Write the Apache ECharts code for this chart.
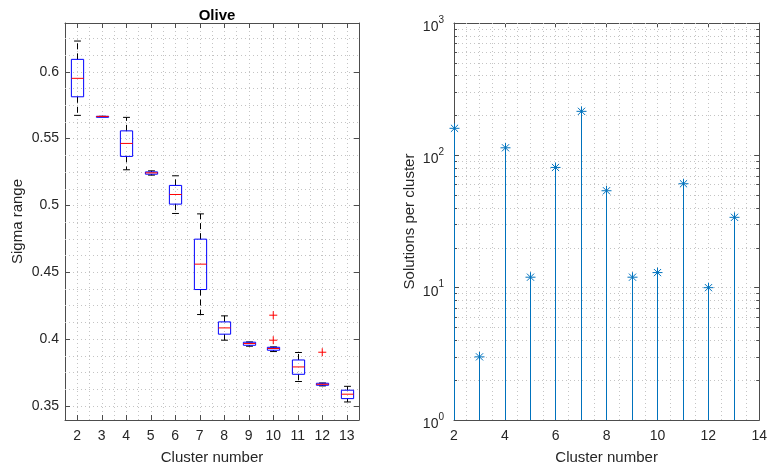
<!DOCTYPE html>
<html>
<head>
<meta charset="utf-8">
<script src="https://cdn.jsdelivr.net/npm/echarts@6/dist/echarts.min.js"></script>
<style>
html, body { margin: 0; padding: 0; background: #fff; }
#chart { width: 770px; height: 471px; }
</style>
</head>
<body>
<div id="chart"></div>
<script>
// left panel: sigma range per cluster number (box plots)
const clusters = ['2', '3', '4', '5', '6', '7', '8', '9', '10', '11', '12', '13']
const sigmaLow = [0.5674, 0.5665, 0.5267, 0.5227, 0.4940, 0.4184, 0.3992, 0.3947, 0.3907, 0.3683, 0.3650, 0.3530]
const sigmaQ1 = [0.5813, 0.5665, 0.5367, 0.5234, 0.5010, 0.4371, 0.4037, 0.3954, 0.3917, 0.3737, 0.3655, 0.3555]
const sigmaMed = [0.5951, 0.5666, 0.5464, 0.5244, 0.5082, 0.4561, 0.4084, 0.3967, 0.3930, 0.3792, 0.3662, 0.3588]
const sigmaQ3 = [0.6093, 0.5667, 0.5558, 0.5251, 0.5150, 0.4748, 0.4129, 0.3977, 0.3939, 0.3844, 0.3670, 0.3618]
const sigmaHigh = [0.6230, 0.5667, 0.5659, 0.5259, 0.5222, 0.4937, 0.4174, 0.3979, 0.3942, 0.3900, 0.3672, 0.3647]
const outlierCluster = ['10', '10', '12']
const outlierSigma = [0.4179, 0.3992, 0.3902]
const sigmaMinorGrid = [0.3625, 0.375, 0.3875, 0.4125, 0.425, 0.4375, 0.4625, 0.475, 0.4875,
	0.5125, 0.525, 0.5375, 0.5625, 0.575, 0.5875, 0.6125, 0.625]

// right panel: solutions per cluster (stem, log scale)
const stemCluster = [2, 3, 4, 5, 6, 7, 8, 9, 10, 11, 12, 13]
const solutions = [160, 3, 114, 12, 81, 215, 54, 12, 13, 61, 10, 34]
const logMinorGrid = [2, 3, 4, 5, 6, 7, 8, 9, 20, 30, 40, 50, 60, 70, 80, 90, 200, 300, 400, 500, 600, 700, 800, 900]
const clusterGrid = [2.5, 3, 3.5, 4, 4.5, 5, 5.5, 6, 6.5, 7, 7.5, 8, 8.5, 9, 9.5, 10, 10.5, 11, 11.5, 12, 12.5, 13, 13.5]

const font = "'Liberation Sans', Arial, Helvetica, sans-serif"
const axisColor = '#4d4d4d'
const textColor = '#262626'
const gridColor = '#c4c4c4'
const stemColor = '#0072BD'

const dotted = { show: true, lineStyle: { color: gridColor, type: [1, 3], width: 1 } }
const tickIn = { show: true, inside: true, length: 5, lineStyle: { color: axisColor } }
const lineAx = { show: true, lineStyle: { color: axisColor, width: 1 } }
const labelStyle = { color: textColor, fontSize: 14, fontFamily: font }
const nameStyle = { color: textColor, fontSize: 15, fontFamily: font }
const gridLine = { stroke: gridColor, lineWidth: 1, lineDash: [1, 3] }

// snap 1px lines onto pixel centres
const crisp = (v) => {
	const d = Math.round(v * 2)
	return d % 2 ? d / 2 : (d + 1) / 2
}

function renderBox(params, api) {
	const i = api.value(0)
	const pLo = api.coord([i, api.value(1)])
	const pQ1 = api.coord([i, api.value(2)])
	const pMed = api.coord([i, api.value(3)])
	const pQ3 = api.coord([i, api.value(4)])
	const pHi = api.coord([i, api.value(5)])
	const band = api.size([1, 0])[0]
	const x = crisp(pMed[0])
	const hw = band * 0.25
	const cw = band * 0.14
	const whisk = { stroke: '#000', lineWidth: 1, lineDash: [6, 4] }
	const solid = { stroke: '#000', lineWidth: 1 }
	return {
		type: 'group',
		children: [
			{ type: 'line', shape: { x1: x, y1: pQ3[1], x2: x, y2: pHi[1] }, style: whisk },
			{ type: 'line', shape: { x1: x, y1: pQ1[1], x2: x, y2: pLo[1] }, style: whisk },
			{ type: 'line', shape: { x1: x - cw, y1: pHi[1], x2: x + cw, y2: pHi[1] }, style: solid },
			{ type: 'line', shape: { x1: x - cw, y1: pLo[1], x2: x + cw, y2: pLo[1] }, style: solid },
			{
				type: 'rect',
				shape: { x: x - hw, y: pQ3[1], width: hw * 2, height: Math.max(pQ1[1] - pQ3[1], 1) },
				style: { fill: 'none', stroke: '#0000FF', lineWidth: 1 },
			},
			{ type: 'line', shape: { x1: x - hw, y1: pMed[1], x2: x + hw, y2: pMed[1] }, style: { stroke: '#FF0000', lineWidth: 1 } },
		],
	}
}

function renderPlus(params, api) {
	const p = api.coord([api.value(0), api.value(1)])
	const r = 4
	const st = { stroke: '#FF0000', lineWidth: 1 }
	return {
		type: 'group',
		children: [
			{ type: 'line', shape: { x1: p[0] - r, y1: p[1], x2: p[0] + r, y2: p[1] }, style: st },
			{ type: 'line', shape: { x1: p[0], y1: p[1] - r, x2: p[0], y2: p[1] + r }, style: st },
		],
	}
}

function renderHGrid(tick) {
	return function (params, api) {
		const y = crisp(api.coord([api.value(0), api.value(1)])[1])
		const cs = params.coordSys
		const kids = [{ type: 'line', shape: { x1: cs.x, y1: y, x2: cs.x + cs.width, y2: y }, style: gridLine }]
		if (tick) {
			kids.push({ type: 'line', shape: { x1: cs.x, y1: y, x2: cs.x + tick, y2: y }, style: { stroke: axisColor, lineWidth: 1 } })
			kids.push({ type: 'line', shape: { x1: cs.x + cs.width - tick, y1: y, x2: cs.x + cs.width, y2: y }, style: { stroke: axisColor, lineWidth: 1 } })
		}
		return { type: 'group', children: kids }
	}
}

function renderVGrid(params, api) {
	const x = crisp(api.coord([api.value(0), api.value(1)])[0])
	const cs = params.coordSys
	return { type: 'line', shape: { x1: x, y1: cs.y, x2: x, y2: cs.y + cs.height }, style: gridLine }
}

function renderStem(params, api) {
	const xv = api.value(0)
	const top = api.coord([xv, api.value(1)])
	const base = api.coord([xv, 1])
	const x = crisp(top[0])
	const r = 5
	const d = 3.6
	const st = { stroke: stemColor, lineWidth: 1 }
	return {
		type: 'group',
		children: [
			{ type: 'line', shape: { x1: x, y1: base[1], x2: x, y2: top[1] }, style: st },
			{ type: 'line', shape: { x1: x - r, y1: top[1], x2: x + r, y2: top[1] }, style: st },
			{ type: 'line', shape: { x1: x, y1: top[1] - r, x2: x, y2: top[1] + r }, style: st },
			{ type: 'line', shape: { x1: x - d, y1: top[1] - d, x2: x + d, y2: top[1] + d }, style: st },
			{ type: 'line', shape: { x1: x - d, y1: top[1] + d, x2: x + d, y2: top[1] - d }, style: st },
		],
	}
}

const option = {
	animation: false,
	title: {
		text: 'Olive',
		left: 212,
		top: 3,
		textAlign: 'center',
		textStyle: { fontSize: 15, fontWeight: 'bold', color: '#000', fontFamily: font },
	},
	grid: [
		{ left: 65, top: 23, width: 294, height: 397 },
		{ left: 454, top: 23, width: 308, height: 397 },
	],
	xAxis: [
		{
			type: 'category', gridIndex: 0, position: 'bottom', data: clusters, boundaryGap: true,
			axisLine: lineAx, axisTick: { ...tickIn, alignWithLabel: true },
			axisLabel: { ...labelStyle, margin: 9, interval: 0 },
			splitLine: { show: false },
			name: 'Cluster number', nameLocation: 'middle', nameGap: 30, nameTextStyle: nameStyle,
		},
		{
			type: 'category', gridIndex: 0, position: 'top', data: clusters, boundaryGap: true,
			axisLine: lineAx, axisTick: { ...tickIn, alignWithLabel: true },
			axisLabel: { show: false }, splitLine: { show: false },
		},
		{
			type: 'value', gridIndex: 0, position: 'bottom', min: 1.5, max: 13.5, interval: 0.5,
			axisLine: { show: false }, axisTick: { show: false }, axisLabel: { show: false },
			splitLine: dotted,
		},
		{
			type: 'value', gridIndex: 1, position: 'bottom', min: 2, max: 14, interval: 2,
			axisLine: lineAx, axisTick: tickIn,
			axisLabel: { ...labelStyle, margin: 9 },
			splitLine: { show: false },
			name: 'Cluster number', nameLocation: 'middle', nameGap: 30, nameTextStyle: nameStyle,
		},
		{
			type: 'value', gridIndex: 1, position: 'top', min: 2, max: 14, interval: 2,
			axisLine: lineAx, axisTick: tickIn, axisLabel: { show: false }, splitLine: { show: false },
		},
	],
	yAxis: [
		{
			type: 'value', gridIndex: 0, position: 'left', min: 0.3395, max: 0.6365,
			splitNumber: 5, minInterval: 0.05, maxInterval: 0.05,
			axisLine: lineAx, axisTick: tickIn,
			axisLabel: {
				...labelStyle, margin: 6, showMinLabel: false, showMaxLabel: false,
				formatter: (v) => (Math.abs(v * 20 - Math.round(v * 20)) < 1e-6 ? String(+v.toFixed(2)) : ''),
			},
			splitLine: dotted,
			name: 'Sigma range', nameLocation: 'middle', nameGap: 40, nameTextStyle: nameStyle,
		},
		{
			type: 'value', gridIndex: 0, position: 'right', min: 0.3395, max: 0.6365,
			splitNumber: 5, minInterval: 0.05, maxInterval: 0.05,
			axisLine: lineAx, axisTick: tickIn, axisLabel: { show: false }, splitLine: { show: false },
		},
		{
			type: 'log', logBase: 10, gridIndex: 1, position: 'left', min: 1, max: 1000,
			axisLine: lineAx, axisTick: tickIn,
			axisLabel: {
				margin: 10,
				formatter: (v) => '{b|10}{s|' + Math.round(Math.log10(v)) + '}',
				rich: {
					b: { ...labelStyle, padding: [8, 0, 0, 0] },
					s: { color: textColor, fontSize: 10, fontFamily: font, padding: [0, 0, 6, 0] },
				},
			},
			splitLine: dotted,
			name: 'Solutions per cluster', nameLocation: 'middle', nameGap: 37, nameTextStyle: nameStyle,
		},
		{
			type: 'log', logBase: 10, gridIndex: 1, position: 'right', min: 1, max: 1000,
			axisLine: lineAx, axisTick: tickIn, axisLabel: { show: false }, splitLine: { show: false },
		},
	],
	series: [
		{
			type: 'custom', name: 'sigmaMinor', xAxisIndex: 0, yAxisIndex: 0, z: 1, silent: true,
			renderItem: renderHGrid(0),
			data: sigmaMinorGrid.map((v) => [0, v]),
		},
		{
			type: 'custom', name: 'box', xAxisIndex: 0, yAxisIndex: 0, z: 3, silent: true,
			renderItem: renderBox,
			encode: { x: 0, y: [1, 2, 3, 4, 5] },
			data: clusters.map((c, i) => [i, sigmaLow[i], sigmaQ1[i], sigmaMed[i], sigmaQ3[i], sigmaHigh[i]]),
		},
		{
			type: 'custom', name: 'outliers', xAxisIndex: 0, yAxisIndex: 0, z: 4, silent: true,
			renderItem: renderPlus,
			data: outlierCluster.map((c, i) => [clusters.indexOf(c), outlierSigma[i]]),
		},
		{
			type: 'custom', name: 'logMinor', xAxisIndex: 3, yAxisIndex: 2, z: 1, silent: true,
			renderItem: renderHGrid(3),
			data: logMinorGrid.map((v) => [2, v]),
		},
		{
			type: 'custom', name: 'clusterGrid', xAxisIndex: 3, yAxisIndex: 2, z: 1, silent: true,
			renderItem: renderVGrid,
			data: clusterGrid.map((v) => [v, 1]),
		},
		{
			type: 'custom', name: 'solutions', xAxisIndex: 3, yAxisIndex: 2, z: 10, silent: true,
			renderItem: renderStem,
			encode: { x: 0, y: 1 },
			data: stemCluster.map((c, i) => [c, solutions[i]]),
		},
	],
}

const chart = echarts.init(document.getElementById('chart'), null, { renderer: 'canvas' })
chart.setOption(option)
</script>
</body>
</html>
